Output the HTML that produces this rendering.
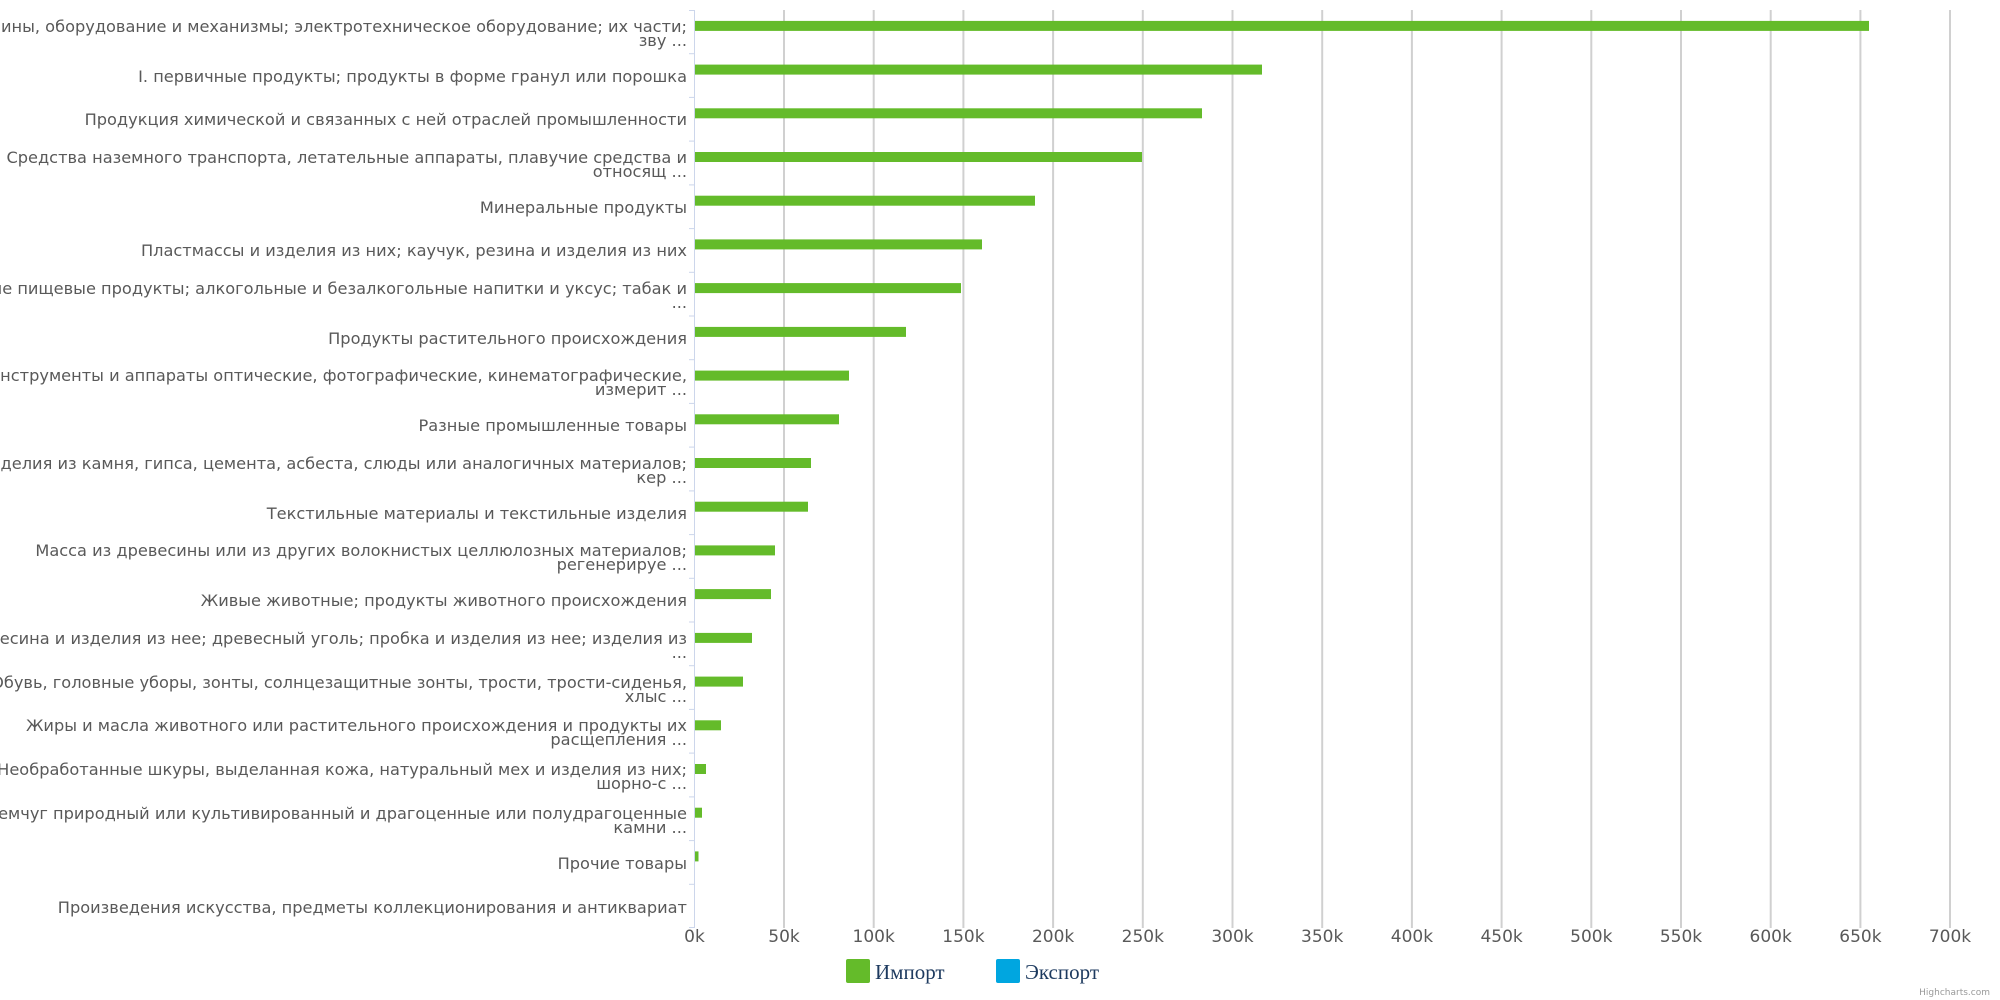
<!DOCTYPE html>
<html><head><meta charset="utf-8"><style>
html,body{margin:0;padding:0;background:#fff;}
svg{display:block;}
.l{font-family:"DejaVu Sans","Liberation Sans",sans-serif;font-size:16.2px;fill:#595959;}
.t{font-family:"DejaVu Sans","Liberation Sans",sans-serif;font-size:17px;fill:#595959;}
.g{stroke:#d0d0d0;stroke-width:2;}
.b{fill:#64bb2a;}
</style></head><body>
<svg width="2000" height="1000" xmlns="http://www.w3.org/2000/svg">
<g>
<line class="g" x1="784" y1="10" x2="784" y2="928"/>
<line class="g" x1="873.7" y1="10" x2="873.7" y2="928"/>
<line class="g" x1="963.4" y1="10" x2="963.4" y2="928"/>
<line class="g" x1="1053.1" y1="10" x2="1053.1" y2="928"/>
<line class="g" x1="1142.8" y1="10" x2="1142.8" y2="928"/>
<line class="g" x1="1232.5" y1="10" x2="1232.5" y2="928"/>
<line class="g" x1="1322.2" y1="10" x2="1322.2" y2="928"/>
<line class="g" x1="1411.9" y1="10" x2="1411.9" y2="928"/>
<line class="g" x1="1501.6" y1="10" x2="1501.6" y2="928"/>
<line class="g" x1="1591.3" y1="10" x2="1591.3" y2="928"/>
<line class="g" x1="1681" y1="10" x2="1681" y2="928"/>
<line class="g" x1="1770.7" y1="10" x2="1770.7" y2="928"/>
<line class="g" x1="1860.4" y1="10" x2="1860.4" y2="928"/>
<line class="g" x1="1950" y1="10" x2="1950" y2="928"/>
</g>
<g stroke="#ccd6eb" stroke-width="1">
<line x1="694.5" y1="10" x2="694.5" y2="928"/>
<line x1="689" y1="10.5" x2="694" y2="10.5"/>
<line x1="689" y1="53.7" x2="694" y2="53.7"/>
<line x1="689" y1="97.4" x2="694" y2="97.4"/>
<line x1="689" y1="141.1" x2="694" y2="141.1"/>
<line x1="689" y1="184.9" x2="694" y2="184.9"/>
<line x1="689" y1="228.6" x2="694" y2="228.6"/>
<line x1="689" y1="272.3" x2="694" y2="272.3"/>
<line x1="689" y1="316" x2="694" y2="316"/>
<line x1="689" y1="359.7" x2="694" y2="359.7"/>
<line x1="689" y1="403.4" x2="694" y2="403.4"/>
<line x1="689" y1="447.1" x2="694" y2="447.1"/>
<line x1="689" y1="490.9" x2="694" y2="490.9"/>
<line x1="689" y1="534.6" x2="694" y2="534.6"/>
<line x1="689" y1="578.3" x2="694" y2="578.3"/>
<line x1="689" y1="622" x2="694" y2="622"/>
<line x1="689" y1="665.7" x2="694" y2="665.7"/>
<line x1="689" y1="709.4" x2="694" y2="709.4"/>
<line x1="689" y1="753.1" x2="694" y2="753.1"/>
<line x1="689" y1="796.9" x2="694" y2="796.9"/>
<line x1="689" y1="840.6" x2="694" y2="840.6"/>
<line x1="689" y1="884.3" x2="694" y2="884.3"/>
<line x1="689" y1="927.5" x2="694" y2="927.5"/>
</g>
<g>
<rect class="b" x="695" y="20.9" width="1174" height="10"/>
<rect class="b" x="695" y="64.6" width="567" height="10"/>
<rect class="b" x="695" y="108.3" width="507" height="10"/>
<rect class="b" x="695" y="152" width="447" height="10"/>
<rect class="b" x="695" y="195.7" width="340" height="10"/>
<rect class="b" x="695" y="239.4" width="287" height="10"/>
<rect class="b" x="695" y="283.1" width="266" height="10"/>
<rect class="b" x="695" y="326.9" width="211" height="10"/>
<rect class="b" x="695" y="370.6" width="154" height="10"/>
<rect class="b" x="695" y="414.3" width="144" height="10"/>
<rect class="b" x="695" y="458" width="116" height="10"/>
<rect class="b" x="695" y="501.7" width="113" height="10"/>
<rect class="b" x="695" y="545.4" width="80" height="10"/>
<rect class="b" x="695" y="589.1" width="76" height="10"/>
<rect class="b" x="695" y="632.9" width="57" height="10"/>
<rect class="b" x="695" y="676.6" width="48" height="10"/>
<rect class="b" x="695" y="720.3" width="26" height="10"/>
<rect class="b" x="695" y="764" width="11" height="10"/>
<rect class="b" x="695" y="807.7" width="7" height="10"/>
<rect class="b" x="695" y="851.4" width="3.5" height="10"/>
</g>
<g class="l" text-anchor="end">
<text x="687" y="32">Машины, оборудование и механизмы; электротехническое оборудование; их части;</text>
<text x="687" y="46">зву ...</text>
<text x="687" y="82">I. первичные продукты; продукты в форме гранул или порошка</text>
<text x="687" y="125">Продукция химической и связанных с ней отраслей промышленности</text>
<text x="687" y="163">Средства наземного транспорта, летательные аппараты, плавучие средства и</text>
<text x="687" y="177">относящ ...</text>
<text x="687" y="213">Минеральные продукты</text>
<text x="687" y="256">Пластмассы и изделия из них; каучук, резина и изделия из них</text>
<text x="687" y="294">Готовые пищевые продукты; алкогольные и безалкогольные напитки и уксус; табак и </text>
<text x="687" y="308">...</text>
<text x="687" y="344">Продукты растительного происхождения</text>
<text x="687" y="381">Инструменты и аппараты оптические, фотографические, кинематографические,</text>
<text x="687" y="395">измерит ...</text>
<text x="687" y="431">Разные промышленные товары</text>
<text x="687" y="469">Изделия из камня, гипса, цемента, асбеста, слюды или аналогичных материалов;</text>
<text x="687" y="483">кер ...</text>
<text x="687" y="519">Текстильные материалы и текстильные изделия</text>
<text x="687" y="556">Масса из древесины или из других волокнистых целлюлозных материалов;</text>
<text x="687" y="570">регенерируе ...</text>
<text x="687" y="606">Живые животные; продукты животного происхождения</text>
<text x="687" y="644">Древесина и изделия из нее; древесный уголь; пробка и изделия из нее; изделия из</text>
<text x="687" y="658">...</text>
<text x="687" y="688">Обувь, головные уборы, зонты, солнцезащитные зонты, трости, трости-сиденья,</text>
<text x="687" y="702">хлыс ...</text>
<text x="687" y="731">Жиры и масла животного или растительного происхождения и продукты их</text>
<text x="687" y="745">расщепления ...</text>
<text x="687" y="775">Необработанные шкуры, выделанная кожа, натуральный мех и изделия из них;</text>
<text x="687" y="789">шорно-с ...</text>
<text x="687" y="819">Жемчуг природный или культивированный и драгоценные или полудрагоценные</text>
<text x="687" y="833">камни ...</text>
<text x="687" y="869">Прочие товары</text>
<text x="687" y="913">Произведения искусства, предметы коллекционирования и антиквариат</text>
</g>
<g class="t" text-anchor="middle">
<text x="694.5" y="942">0k</text>
<text x="784" y="942">50k</text>
<text x="873.7" y="942">100k</text>
<text x="963.4" y="942">150k</text>
<text x="1053.1" y="942">200k</text>
<text x="1142.8" y="942">250k</text>
<text x="1232.5" y="942">300k</text>
<text x="1322.2" y="942">350k</text>
<text x="1411.9" y="942">400k</text>
<text x="1501.6" y="942">450k</text>
<text x="1591.3" y="942">500k</text>
<text x="1681" y="942">550k</text>
<text x="1770.7" y="942">600k</text>
<text x="1860.4" y="942">650k</text>
<text x="1950" y="942">700k</text>
</g>
<rect x="846" y="959" width="24" height="24" rx="2" fill="#64bb2a"/>
<text x="875" y="979" font-family="'Liberation Serif',serif" font-size="21" fill="#1d3a5f">Импорт</text>
<rect x="996" y="959" width="24" height="24" rx="2" fill="#00a6e0"/>
<text x="1025" y="979" font-family="'Liberation Serif',serif" font-size="21" fill="#1d3a5f">Экспорт</text>
<text x="1990" y="995" text-anchor="end" font-family="'DejaVu Sans',sans-serif" font-size="9" fill="#999">Highcharts.com</text>
</svg>
</body></html>
